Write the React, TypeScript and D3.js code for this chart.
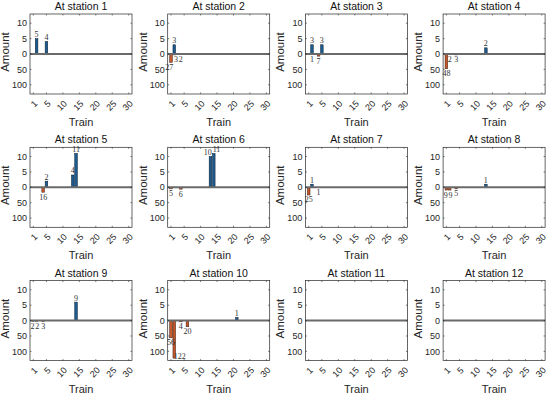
import React from "react";
import * as d3 from "d3";

// ---- data ----
const stationNames = [
  "At station 1", "At station 2", "At station 3", "At station 4",
  "At station 5", "At station 6", "At station 7", "At station 8",
  "At station 9", "At station 10", "At station 11", "At station 12",
];
// positive (boarding) bars: train numbers and amounts per station
const upTrains: number[][] = [[2, 5], [2], [2, 5], [13], [5, 13, 14], [13, 14], [2], [13], [14], [21], [], []];
const upValues: number[][] = [[5, 4], [3], [3, 3], [2], [2, 4, 11], [10, 11], [1], [1], [6], [1], [], []];
const upLabels: string[][] = [["5", "4"], ["3"], ["3", "3"], ["2"], ["2", "4", "11"], ["10", "11"], ["1"], ["1"], ["9"], ["1"], [], []];
// negative (alighting) bars: train numbers and amounts per station
const downTrains: number[][] = [[], [1, 2, 4], [2, 4], [1, 2, 4], [4], [1, 4], [1, 4], [1, 2, 4], [1, 2, 4], [1, 2, 4, 6], [], []];
const downValues: number[][] = [[], [27, 3, 2], [1, 7], [48, 2, 3], [16], [5, 6], [25, 1], [9, 9, 5], [2, 2, 3], [56, 122, 4, 20], [], []];

const xTicks = [1, 5, 10, 15, 20, 25, 30];
const yTickVals = [10, 5, 0, -5, -10];
const yTickLabels = ["10", "5", "0", "50", "100"];

const W = 102;
const H = 80;
const BW = 0.8;
const CHAR_W = 4.1;

const sans = "'Liberation Sans', Arial, sans-serif";
const serif = "'Liberation Serif', 'Times New Roman', serif";

// push horizontally overlapping labels apart (only when their vertical bands overlap)
function separate(items: { cx: number; y: number; text: string }[]) {
  const out = items.map((d) => ({ ...d }));
  for (let iter = 0; iter < 4; iter++) {
    for (let i = 0; i < out.length - 1; i++) {
      const a = out[i], b = out[i + 1];
      if (Math.abs(a.y - b.y) > 8.5) continue;
      const need = (a.text.length + b.text.length) * CHAR_W / 2 + 0.6;
      const gap = b.cx - a.cx;
      if (gap < need) {
        const s = (need - gap) / 2;
        a.cx -= s;
        b.cx += s;
      }
    }
  }
  return out;
}

function Panel({ idx }: { idx: number }) {
  const col = idx % 4;
  const row = Math.floor(idx / 4);
  const left = 30 + col * 137.7;
  const top = 14 + row * 133.3;
  const bottom = top + H;
  const x = d3.scaleLinear().domain([0, 31]).range([left, left + W]);
  const y = d3.scaleLinear().domain([-13, 13]).range([bottom, top]);
  const bw = x(BW) - x(0);
  const y0 = y(0);

  const ups = upTrains[idx].map((t, i) => ({ t, v: upValues[idx][i], lab: upLabels[idx][i] }));
  const downs = downTrains[idx].map((t, i) => ({ t, v: downValues[idx][i] }));

  const upLab = separate(ups.map((d) => ({ cx: x(d.t), y: y(d.v) - 1.5, text: d.lab })));
  const downLabRaw: { cx: number; y: number; text: string }[] = [];
  const downLabCentered: { cx: number; y: number; text: string }[] = [];
  downs.forEach((d) => {
    const yb = y(-d.v / 10);
    if (yb + 8 > bottom) downLabRaw.push({ cx: x(d.t) - 0.5, y: bottom - 1.5, text: String(d.v) });
    else downLabCentered.push({ cx: x(d.t), y: yb + 7.5, text: String(d.v) });
  });
  const downLab = separate(downLabCentered);

  return (
    <g>
      <text x={left + W / 2} y={top - 4} textAnchor="middle" fontFamily={sans} fontSize={10.5} fill="#111">
        {stationNames[idx]}
      </text>
      <rect x={left} y={top} width={W} height={H} fill="#fff" />
      {ups.map((d, i) => (
        <rect key={"u" + i} x={x(d.t) - bw / 2} y={y(d.v)} width={bw} height={y0 - y(d.v)}
          fill="#1d5b8e" stroke="#0b1e30" strokeWidth={0.5} />
      ))}
      {downs.map((d, i) => (
        <rect key={"d" + i} x={x(d.t) - bw / 2} y={y0} width={bw} height={y(-d.v / 10) - y0}
          fill="#c4582b" stroke="#3a1a10" strokeWidth={0.5} />
      ))}
      <line x1={left} x2={left + W} y1={y0} y2={y0} stroke="#6a6a6a" strokeWidth={2} />
      {upLab.map((d, i) => (
        <text key={"ul" + i} x={d.cx} y={d.y} textAnchor="middle" fontFamily={serif} fontSize={8} fill="#333">
          {d.text}
        </text>
      ))}
      {downLab.map((d, i) => (
        <text key={"dl" + i} x={d.cx} y={d.y} textAnchor="middle" fontFamily={serif} fontSize={8} fill="#333">
          {d.text}
        </text>
      ))}
      {downLabRaw.map((d, i) => (
        <text key={"dr" + i} x={d.cx} y={d.y} textAnchor="start" fontFamily={serif} fontSize={8} fill="#333">
          {d.text}
        </text>
      ))}
      <rect x={left} y={top} width={W} height={H} fill="none" stroke="#262626" strokeWidth={0.7} />
      {yTickVals.map((v, i) => (
        <g key={"yt" + i}>
          <line x1={left} x2={left + 1.5} y1={y(v)} y2={y(v)} stroke="#262626" strokeWidth={0.6} />
          <line x1={left + W} x2={left + W - 1.5} y1={y(v)} y2={y(v)} stroke="#262626" strokeWidth={0.6} />
          <text x={left - 3} y={y(v)} dy="0.35em" textAnchor="end" fontFamily={sans} fontSize={9} fill="#262626">
            {yTickLabels[i]}
          </text>
        </g>
      ))}
      {xTicks.map((t) => (
        <g key={"xt" + t}>
          <line x1={x(t)} x2={x(t)} y1={bottom} y2={bottom - 1.5} stroke="#262626" strokeWidth={0.6} />
          <line x1={x(t)} x2={x(t)} y1={top} y2={top + 1.5} stroke="#262626" strokeWidth={0.6} />
          <text transform={`translate(${x(t) + 2.5},${bottom + 8}) rotate(-45)`} dy="0.35em" textAnchor="end"
            fontFamily={sans} fontSize={9} fill="#262626">
            {String(t)}
          </text>
        </g>
      ))}
      <text x={left + W / 2} y={bottom + 32} textAnchor="middle" fontFamily={sans} fontSize={11} fill="#262626">
        Train
      </text>
      <text transform={`translate(${left - 21},${top + H / 2 - 2}) rotate(-90)`} textAnchor="middle"
        fontFamily={sans} fontSize={11.5} fill="#262626">
        Amount
      </text>
    </g>
  );
}

export default function App() {
  return (
    <svg width={550} height={395} style={{ position: "absolute", left: 0, top: 0, background: "#fff" }}>
      <rect width={550} height={395} fill="#fff" />
      {stationNames.map((_, i) => (
        <Panel key={i} idx={i} />
      ))}
    </svg>
  );
}
